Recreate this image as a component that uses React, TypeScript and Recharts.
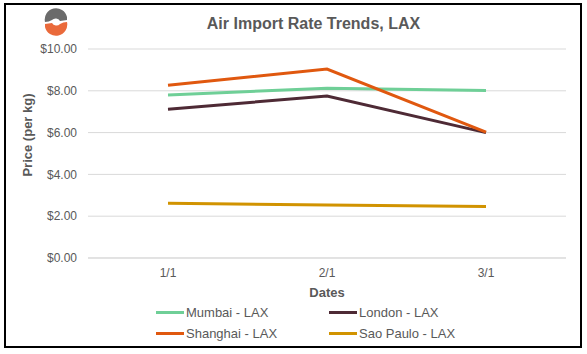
import { LineChart, Line, XAxis, YAxis, CartesianGrid, Label } from "recharts";

const dates = ["1/1", "2/1", "3/1"];
const mumbai = [7.8, 8.12, 8.02];
const london = [7.12, 7.75, 6.0];
const shanghai = [8.27, 9.04, 6.02];
const saoPaulo = [2.62, 2.54, 2.47];
const yTicks = [0, 2, 4, 6, 8, 10];

const series = [
  { key: "mumbai", name: "Mumbai - LAX", color: "#6fcf97" },
  { key: "london", name: "London - LAX", color: "#4e2a35" },
  { key: "shanghai", name: "Shanghai - LAX", color: "#e0580f" },
  { key: "saoPaulo", name: "Sao Paulo - LAX", color: "#d19300" },
];

const data = dates.map((d, i) => ({
  date: d,
  mumbai: mumbai[i],
  london: london[i],
  shanghai: shanghai[i],
  saoPaulo: saoPaulo[i],
}));

const font = "'Liberation Sans', Arial, sans-serif";
const grey = "#595959";

function LegendBox() {
  const cols = [156, 329];
  return (
    <>
      {series.map((s, i) => (
        <div
          key={s.key}
          style={{
            position: "absolute",
            left: cols[i % 2],
            top: 304 + Math.floor(i / 2) * 21,
            height: 16,
            display: "flex",
            alignItems: "center",
            fontFamily: font,
            fontSize: 13,
            color: grey,
          }}
        >
          <span style={{ display: "inline-block", width: 28, height: 3, background: s.color, marginRight: 2 }} />
          {s.name}
        </div>
      ))}
    </>
  );
}

// swirl logo, top-left
function Logo() {
  return (
    <svg width={30} height={30} style={{ position: "absolute", left: 41, top: 7 }} viewBox="0 0 30 30">
      <path d="M4 15 A11 11 0 0 1 26 10 L26 13 L19 14 A5 5 0 0 0 11 13 Q8 15 4 15 Z" fill="#6b6b6b" />
      <path d="M26 15 A11 11 0 0 1 4 20 L4 17 L11 16 A5 5 0 0 0 19 17 Q22 15 26 15 Z" fill="#ea6a3b" />
    </svg>
  );
}

export default function App() {
  return (
    <div style={{ position: "absolute", left: 0, top: 0, width: 587, height: 354, background: "#fff" }}>
      <div
        style={{
          position: "absolute",
          left: 4,
          top: 3,
          width: 578,
          height: 345,
          border: "2px solid #000",
          boxSizing: "border-box",
        }}
      />
      <Logo />
      <div
        style={{
          position: "absolute",
          left: 0,
          top: 15,
          width: 627,
          textAlign: "center",
          fontFamily: font,
          fontWeight: "bold",
          fontSize: 16,
          color: grey,
        }}
      >
        Air Import Rate Trends, LAX
      </div>
      <LineChart
        width={587}
        height={354}
        data={data}
        margin={{ top: 49, right: 21, bottom: 0, left: 0 }}
        style={{ fontFamily: font, position: "absolute", left: 0, top: 0 }}
      >
        <CartesianGrid vertical={false} stroke="#d9d9d9" />
        <XAxis
          dataKey="date"
          height={96}
          padding={{ left: 80, right: 80 }}
          tickLine={false}
          axisLine={{ stroke: "#d9d9d9" }}
          tick={{ fill: grey, fontSize: 12 }}
          tickMargin={10}
          tickSize={0}
        >
          <Label
            value="Dates"
            position="insideTop"
            offset={30}
            style={{ fill: grey, fontSize: 13, fontWeight: "bold" }}
          />
        </XAxis>
        <YAxis
          width={88}
          domain={[0, 10]}
          ticks={yTicks}
          tickLine={false}
          axisLine={false}
          tickMargin={5}
          tick={{ fill: grey, fontSize: 12 }}
          tickFormatter={(v: number) => `$${v.toFixed(2)}`}
        >
          <Label
            content={() => (
              <text
                x={27}
                y={135}
                transform="rotate(-90, 27, 135)"
                textAnchor="middle"
                dominantBaseline="central"
                fill={grey}
                fontSize={13}
                fontWeight="bold"
              >
                Price (per kg)
              </text>
            )}
          />
        </YAxis>
        {series.map((s) => (
          <Line
            key={s.key}
            dataKey={s.key}
            name={s.name}
            stroke={s.color}
            strokeWidth={3}
            dot={false}
            type="linear"
            isAnimationActive={false}
          />
        ))}
      </LineChart>
      <LegendBox />
    </div>
  );
}
